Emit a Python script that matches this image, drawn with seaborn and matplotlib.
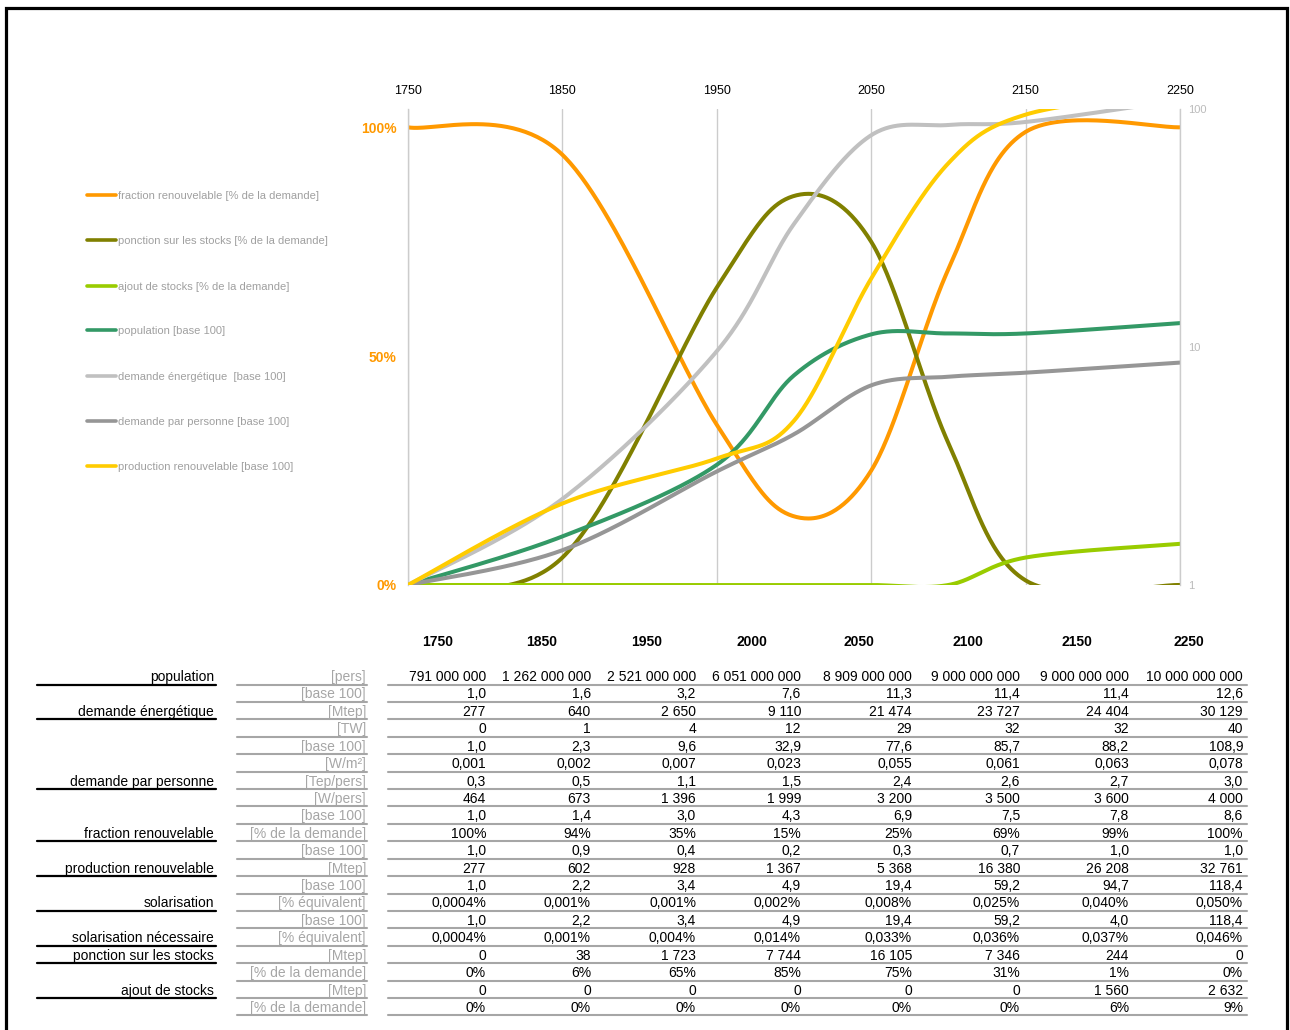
import numpy as np
import pandas as pd
import matplotlib
matplotlib.use("Agg")
import matplotlib.pyplot as plt
import seaborn as sns
from matplotlib.lines import Line2D
from matplotlib.ticker import NullLocator, FixedLocator

# ---------------------------------------------------------------- data
years = [1750, 1850, 1950, 2000, 2050, 2100, 2150, 2250]

population_pers = [791_000_000, 1_262_000_000, 2_521_000_000, 6_051_000_000,
                   8_909_000_000, 9_000_000_000, 9_000_000_000, 10_000_000_000]
population_base = [1.0, 1.6, 3.2, 7.6, 11.3, 11.4, 11.4, 12.6]
demande_mtep = [277, 640, 2650, 9110, 21474, 23727, 24404, 30129]
demande_tw = [0, 1, 4, 12, 29, 32, 32, 40]
demande_base = [1.0, 2.3, 9.6, 32.9, 77.6, 85.7, 88.2, 108.9]
demande_wm2 = [0.001, 0.002, 0.007, 0.023, 0.055, 0.061, 0.063, 0.078]
parpers_tep = [0.3, 0.5, 1.1, 1.5, 2.4, 2.6, 2.7, 3.0]
parpers_w = [464, 673, 1396, 1999, 3200, 3500, 3600, 4000]
parpers_base = [1.0, 1.4, 3.0, 4.3, 6.9, 7.5, 7.8, 8.6]
fraction_pct = [100, 94, 35, 15, 25, 69, 99, 100]
fraction_base = [1.0, 0.9, 0.4, 0.2, 0.3, 0.7, 1.0, 1.0]
prod_mtep = [277, 602, 928, 1367, 5368, 16380, 26208, 32761]
prod_base = [1.0, 2.2, 3.4, 4.9, 19.4, 59.2, 94.7, 118.4]
solar_pct = ["0,0004%", "0,001%", "0,001%", "0,002%", "0,008%", "0,025%", "0,040%", "0,050%"]
solar_nec_base = [1.0, 2.2, 3.4, 4.9, 19.4, 59.2, 4.0, 118.4]
solar_nec_pct = ["0,0004%", "0,001%", "0,004%", "0,014%", "0,033%", "0,036%", "0,037%", "0,046%"]
ponction_mtep = [0, 38, 1723, 7744, 16105, 7346, 244, 0]
ponction_pct = [0, 6, 65, 85, 75, 31, 1, 0]
ajout_mtep = [0, 0, 0, 0, 0, 0, 1560, 2632]
ajout_pct = [0, 0, 0, 0, 0, 0, 6, 9]

legend_labels = [
    "fraction renouvelable [% de la demande]",
    "ponction sur les stocks [% de la demande]",
    "ajout de stocks [% de la demande]",
    "population [base 100]",
    "demande énergétique  [base 100]",
    "demande par personne [base 100]",
    "production renouvelable [base 100]",
]
colors = ["#FF9900", "#808000", "#99CC00", "#339966", "#C0C0C0", "#969696", "#FFCC00"]

# ---------------------------------------------------------------- style
sns.set_theme(style="white")
plt.rcParams["font.family"] = ["Liberation Sans", "DejaVu Sans"]

W, H = 1290, 1030
fig = plt.figure(figsize=(W / 100, H / 100), dpi=100)
fig.patch.set_facecolor("white")


def fx(x):
    return x / W


def fy(y):
    return 1 - y / H


def smooth_curve(xs, ys, steps=60):
    """Bezier smoothing through the points (spreadsheet-style smoothed line)."""
    P = np.column_stack([np.asarray(xs, float), np.asarray(ys, float)])
    n = len(P)
    out = []
    t = np.linspace(0, 1, steps)[:, None]
    for i in range(n - 1):
        p0 = P[i - 1] if i > 0 else P[i]
        p1, p2 = P[i], P[i + 1]
        p3 = P[i + 2] if i + 2 < n else P[i + 1]
        c1 = p1 + (p2 - p0) / 6
        c2 = p2 - (p3 - p1) / 6
        seg = (1 - t) ** 3 * p1 + 3 * (1 - t) ** 2 * t * c1 + 3 * (1 - t) * t ** 2 * c2 + t ** 3 * p2
        out.append(seg if i == 0 else seg[1:])
    return np.vstack(out)


def draw_series(axis, values, color, log=False):
    yv = np.log10(values) if log else np.asarray(values, float)
    pts = smooth_curve(years, yv)
    yy = 10 ** pts[:, 1] if log else pts[:, 1]
    df = pd.DataFrame({"année": pts[:, 0], "valeur": yy})
    sns.lineplot(data=df, x="année", y="valeur", ax=axis, color=color, lw=2.9,
                 sort=False, estimator=None, solid_capstyle="round")


# ---------------------------------------------------------------- chart
ax = fig.add_axes([fx(408), fy(585), fx(1180 - 408), (585 - 109) / H])
ax.patch.set_alpha(0)
ax2 = ax.twinx()
ax2.set_yscale("log")

draw_series(ax, np.array(fraction_pct) / 100, colors[0])
draw_series(ax, np.array(ponction_pct) / 100, colors[1])
draw_series(ax, np.array(ajout_pct) / 100, colors[2])
draw_series(ax2, population_base, colors[3], log=True)
draw_series(ax2, demande_base, colors[4], log=True)
draw_series(ax2, parpers_base, colors[5], log=True)
draw_series(ax2, prod_base, colors[6], log=True)

ax.set_xlim(1750, 2250)
ax.set_ylim(0, 1.04)
ax2.set_ylim(1, 100)
for a in (ax, ax2):
    a.set_xlabel("")
    a.set_ylabel("")

ax.xaxis.tick_top()
ax.set_xticks(range(1750, 2251, 100))
ax.set_xticklabels([str(y) for y in range(1750, 2251, 100)], fontsize=9, color="black")
ax.tick_params(axis="x", length=0, pad=8.5, top=True, bottom=False,
               labeltop=True, labelbottom=False)
ax.grid(True, axis="x", color="#CCCCCC", lw=1)
ax.grid(False, axis="y")

ax.set_yticks([0, 0.5, 1.0])
ax.set_yticklabels(["0%", "50%", "100%"], fontsize=10, fontweight="bold", color="#FF9900")
ax.tick_params(axis="y", length=0, pad=8)

ax2.yaxis.set_major_locator(FixedLocator([1, 10, 100]))
ax2.yaxis.set_minor_locator(NullLocator())
ax2.set_yticklabels(["1", "10", "100"], fontsize=8, color="#BBBBBB")
ax2.tick_params(axis="y", length=0, pad=6)
ax2.grid(False)

for s in ("top", "bottom"):
    ax.spines[s].set_visible(False)
    ax2.spines[s].set_visible(False)
ax.spines["right"].set_visible(False)
ax2.spines["left"].set_visible(False)
ax.spines["left"].set_color("#CCCCCC")
ax.spines["left"].set_linewidth(1)
ax2.spines["right"].set_color("#CCCCCC")
ax2.spines["right"].set_linewidth(1)

# ---------------------------------------------------------------- legend
legend_y = [195, 240, 286, 330, 376, 421, 466]
for lab, col, yy in zip(legend_labels, colors, legend_y):
    fig.add_artist(Line2D([fx(87), fx(116)], [fy(yy), fy(yy)], color=col, lw=2.6,
                          solid_capstyle="round"))
    fig.text(fx(118), fy(yy + 4), lab, fontsize=8, color="#A0A0A0", ha="left", va="baseline")


# ---------------------------------------------------------------- table
def f_int(v):
    return f"{int(round(v)):,}".replace(",", " ")


def f_dec(v, d):
    return f"{v:,.{d}f}".replace(",", " ").replace(".", ",")


def f_pct(v):
    return f"{int(v)}%"


rows = [
    ("population", "[pers]", [f_int(v) for v in population_pers]),
    ("", "[base 100]", [f_dec(v, 1) for v in population_base]),
    ("demande énergétique", "[Mtep]", [f_int(v) for v in demande_mtep]),
    ("", "[TW]", [f_int(v) for v in demande_tw]),
    ("", "[base 100]", [f_dec(v, 1) for v in demande_base]),
    ("", "[W/m²]", [f_dec(v, 3) for v in demande_wm2]),
    ("demande par personne", "[Tep/pers]", [f_dec(v, 1) for v in parpers_tep]),
    ("", "[W/pers]", [f_int(v) for v in parpers_w]),
    ("", "[base 100]", [f_dec(v, 1) for v in parpers_base]),
    ("fraction renouvelable", "[% de la demande]", [f_pct(v) for v in fraction_pct]),
    ("", "[base 100]", [f_dec(v, 1) for v in fraction_base]),
    ("production renouvelable", "[Mtep]", [f_int(v) for v in prod_mtep]),
    ("", "[base 100]", [f_dec(v, 1) for v in prod_base]),
    ("solarisation", "[% équivalent]", solar_pct),
    ("", "[base 100]", [f_dec(v, 1) for v in solar_nec_base]),
    ("solarisation nécessaire", "[% équivalent]", solar_nec_pct),
    ("ponction sur les stocks", "[Mtep]", [f_int(v) for v in ponction_mtep]),
    ("", "[% de la demande]", [f_pct(v) for v in ponction_pct]),
    ("ajout de stocks", "[Mtep]", [f_int(v) for v in ajout_mtep]),
    ("", "[% de la demande]", [f_pct(v) for v in ajout_pct]),
]

header_x = [438, 542, 647, 752, 859, 968, 1077, 1189]
value_right = [486, 591, 696, 801, 912, 1020, 1129, 1243]

for yr, xc in zip(years, header_x):
    fig.text(fx(xc), fy(641 + 5), str(yr), fontsize=10, fontweight="bold",
             color="black", ha="center", va="baseline")

row0, step = 676.0, 17.42
for i, (cat, unit, vals) in enumerate(rows):
    yc = row0 + i * step
    yl = yc + 8.5
    if cat:
        fig.text(fx(214), fy(yc + 5), cat, fontsize=10, color="black", ha="right", va="baseline")
        fig.add_artist(Line2D([fx(37), fx(216)], [fy(yl), fy(yl)], color="black", lw=1.6))
    fig.text(fx(366), fy(yc + 5), unit, fontsize=10, color="#A6A6A6", ha="right", va="baseline")
    fig.add_artist(Line2D([fx(237), fx(367)], [fy(yl), fy(yl)], color="#A6A6A6", lw=1.5))
    for v, xr in zip(vals, value_right):
        fig.text(fx(xr), fy(yc + 5), v, fontsize=10, color="black", ha="right", va="baseline")
    fig.add_artist(Line2D([fx(388), fx(1247)], [fy(yl), fy(yl)], color="#A6A6A6", lw=1.5))

# frame around the whole sheet
fig.add_artist(Line2D([fx(5.5), fx(5.5), fx(1286.5), fx(1286.5)], [0, fy(7.5), fy(7.5), 0],
                      color="black", lw=2.3, solid_joinstyle="miter"))

fig.savefig("out.png", dpi=100)
